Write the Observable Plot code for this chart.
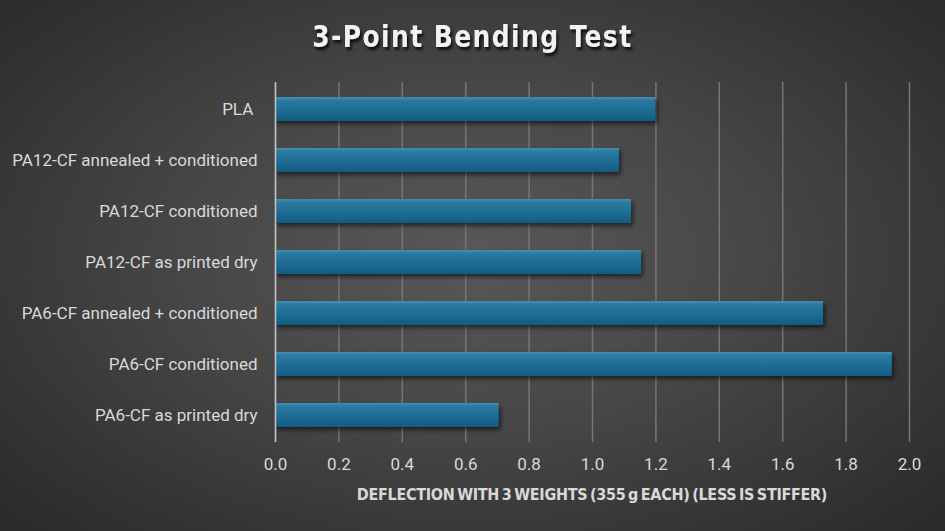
<!DOCTYPE html>
<html><head><meta charset="utf-8">
<script src="https://cdn.jsdelivr.net/npm/d3@7"></script>
<script src="https://cdn.jsdelivr.net/npm/@observablehq/plot@0.6"></script>
<style>
html,body{margin:0;padding:0;background:#2a2a2a;}
#chart{position:relative;width:945px;height:531px;overflow:hidden;
  background:radial-gradient(ellipse 75% 80% at 50% 48%, #585858 0%, #474747 40%, #333333 75%, #262626 100%);}
#title{position:absolute;top:16px;left:0;width:945px;text-align:center;font-family:"DejaVu Sans Condensed","DejaVu Sans",sans-serif;font-weight:bold;font-size:31px;line-height:40px;letter-spacing:1.5px;color:#f2f2f2;text-shadow:2px 3px 3px rgba(0,0,0,0.75);transform:scaleX(0.9);transform-origin:471px 50%;}
#plot{position:absolute;top:60px;left:0;}
#xlabel{position:absolute;top:485px;left:275px;width:634px;text-align:center;font-family:"DejaVu Sans Condensed","DejaVu Sans",sans-serif;font-weight:bold;font-size:16px;word-spacing:-2px;letter-spacing:-0.3px;color:#d9d9d9;}
g[aria-label="bar"]{filter:drop-shadow(2px 3px 2px rgba(0,0,0,0.55));}
</style></head><body>
<div id="chart">
  <div id="title">3-Point Bending Test</div>
  <div id="plot"></div>
  <div id="xlabel">DEFLECTION WITH 3 WEIGHTS (355 g EACH) (LESS IS STIFFER)</div>
</div>
<script>
const categories = [
  "PLA ",
  "PA12-CF annealed + conditioned",
  "PA12-CF conditioned",
  "PA12-CF as printed dry",
  "PA6-CF annealed + conditioned",
  "PA6-CF conditioned",
  "PA6-CF as printed dry"
];
const deflection = [1.20, 1.085, 1.123, 1.155, 1.729, 1.946, 0.706];
const xTicks = [0, 0.2, 0.4, 0.6, 0.8, 1.0, 1.2, 1.4, 1.6, 1.8, 2.0];

const data = categories.map((c, i) => ({category: c, value: deflection[i]}));

const chart = Plot.plot({
  width: 945,
  height: 471,
  marginLeft: 275,
  marginRight: 36,
  marginTop: 22,
  marginBottom: 89,
  style: {background: "transparent", color: "#d9d9d9", fontFamily: "Roboto, sans-serif", fontSize: "17px"},
  x: {domain: [0, 2.0]},
  y: {domain: categories, paddingInner: 0.53, paddingOuter: 0.27},
  marks: [
    Plot.gridX(xTicks, {stroke: "#767676", strokeOpacity: 1, strokeWidth: 1.5}),
    Plot.barX(data, {x: "value", y: "category", fill: "url(#barGrad)"}),
    Plot.ruleX([0], {stroke: "#c4c4c4", strokeWidth: 1.5}),
    Plot.axisX({ticks: xTicks, tickFormat: d3.format(".1f"), tickSize: 0, tickPadding: 15, label: null, fill: "#d9d9d9"}),
    Plot.axisY({tickSize: 0, tickPadding: 18, label: null, fill: "#d9d9d9"})
  ]
});
chart.insertAdjacentHTML("afterbegin",
  '<defs><linearGradient id="barGrad" x1="0" y1="0" x2="0" y2="1">' +
  '<stop offset="0" stop-color="#4a8db0"/>' +
  '<stop offset="0.15" stop-color="#2a79a0"/>' +
  '<stop offset="0.6" stop-color="#1c6b93"/>' +
  '<stop offset="1" stop-color="#135b80"/>' +
  '</linearGradient></defs>');
document.getElementById("plot").appendChild(chart);
</script>
</body></html>
